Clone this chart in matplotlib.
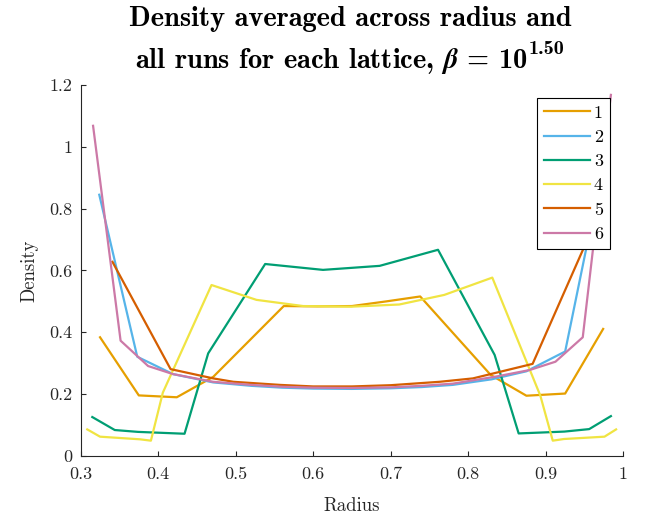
import matplotlib
matplotlib.use("Agg")

import matplotlib.pyplot as plt

plt.rcParams["font.family"] = "cmr10"
plt.rcParams["mathtext.fontset"] = "cm"

# Density per radius bin, averaged over runs, one series per lattice
r1 = [0.325, 0.375, 0.424, 0.471, 0.562, 0.606, 0.650, 0.694, 0.738, 0.829, 0.875, 0.925, 0.974]
d1 = [0.384, 0.196, 0.190, 0.256, 0.485, 0.484, 0.485, 0.500, 0.516, 0.262, 0.195, 0.202, 0.411]

r2 = [0.324, 0.373, 0.419, 0.471, 0.520, 0.560, 0.600, 0.650, 0.700, 0.740, 0.780, 0.830, 0.875, 0.925, 0.975]
d2 = [0.845, 0.321, 0.265, 0.238, 0.227, 0.221, 0.218, 0.217, 0.219, 0.223, 0.230, 0.248, 0.274, 0.338, 0.950]

r3 = [0.315, 0.344, 0.374, 0.404, 0.434, 0.4645, 0.538, 0.6126, 0.6857, 0.761, 0.834, 0.865, 0.895, 0.924, 0.956, 0.984]
d3 = [0.126, 0.084, 0.078, 0.075, 0.072, 0.332, 0.621, 0.602, 0.615, 0.667, 0.327, 0.073, 0.076, 0.079, 0.087, 0.129]

r4 = [0.3085, 0.325, 0.3765, 0.3906, 0.406, 0.4688, 0.5268, 0.587, 0.649, 0.711, 0.769, 0.831, 0.893, 0.909, 0.9235, 0.9757, 0.9907]
d4 = [0.086, 0.0625, 0.054, 0.0496, 0.205, 0.553, 0.505, 0.485, 0.483, 0.490, 0.521, 0.577, 0.195, 0.0496, 0.055, 0.0625, 0.086]

r5 = [0.341, 0.416, 0.471, 0.497, 0.557, 0.600, 0.650, 0.700, 0.763, 0.806, 0.883, 0.959]
d5 = [0.628, 0.281, 0.251, 0.240, 0.230, 0.225, 0.225, 0.229, 0.240, 0.251, 0.298, 0.730]

r6 = [0.316, 0.3515, 0.387, 0.419, 0.471, 0.520, 0.560, 0.600, 0.650, 0.700, 0.740, 0.780, 0.836, 0.879, 0.9125, 0.9477, 0.984]
d6 = [1.068, 0.373, 0.291, 0.265, 0.240, 0.230, 0.224, 0.221, 0.220, 0.222, 0.227, 0.234, 0.257, 0.278, 0.305, 0.384, 1.168]

radii = [r1, r2, r3, r4, r5, r6]
densities = [d1, d2, d3, d4, d5, d6]
labels = ["1", "2", "3", "4", "5", "6"]
colors = ["#E69F00", "#56B4E9", "#009E73", "#F0E442", "#D55E00", "#CC79A7"]

W, H = 649, 523
fig = plt.figure(figsize=(W / 100, H / 100), dpi=100)
ax = fig.add_axes([0.1243, 0.1281, 0.8361, 0.7094])

for r, d, lab, c in zip(radii, densities, labels, colors):
    ax.plot(r, d, color=c, lw=1.6, label=lab)

ax.set_xlim(0.3, 1.0)
ax.set_ylim(0, 1.2)
ax.set_xticks([0.3, 0.4, 0.5, 0.6, 0.7, 0.8, 0.9, 1.0])
ax.set_xticklabels(["0.3", "0.4", "0.5", "0.6", "0.7", "0.8", "0.9", "1"])
ax.set_yticks([0, 0.2, 0.4, 0.6, 0.8, 1.0, 1.2])
ax.set_yticklabels(["0", "0.2", "0.4", "0.6", "0.8", "1", "1.2"])

for side in ["top", "right"]:
    ax.spines[side].set_visible(False)
for side in ["left", "bottom"]:
    ax.spines[side].set_color("#262626")
    ax.spines[side].set_linewidth(0.8)
ax.tick_params(direction="in", length=3.5, width=0.8, colors="#262626",
               labelsize=13, labelcolor="#262626")
ax.tick_params(axis="x", pad=8)
ax.tick_params(axis="y", pad=6)

ax.set_xlabel("Radius", fontsize=13.5, color="#262626", labelpad=10.5)
ax.set_ylabel("Density", fontsize=13.5, color="#262626", labelpad=8)

# two-line bold title; the exponent is set as its own smaller text
title_kw = dict(family="cmb10", color="black")
fig.text(350 / W, 1 - 25.5 / H, "Density averaged across radius and",
         ha="center", va="baseline", fontsize=20.5, **title_kw)
main = fig.text(0, 1 - 68 / H, r"all runs for each lattice, $\boldsymbol{\beta}$ = 10",
                ha="left", va="baseline", fontsize=20.5, **title_kw)
sup = fig.text(0, 1 - 54 / H, "1.50", ha="left", va="baseline",
               fontsize=14.5, **title_kw)
renderer = fig.canvas.get_renderer()
w_main = main.get_window_extent(renderer).width
w_sup = sup.get_window_extent(renderer).width
gap = 1
x0 = 350 - (w_main + gap + w_sup) / 2
main.set_x(x0 / W)
sup.set_x((x0 + w_main + gap) / W)

leg = ax.legend(loc="upper right", bbox_to_anchor=(610 / W, 1 - 97.7 / H),
                bbox_transform=fig.transFigure, borderaxespad=0,
                fontsize=13, handlelength=2.55, handletextpad=0.2,
                labelspacing=0.48, borderpad=0.4, fancybox=False,
                framealpha=1, edgecolor="black")
leg.get_frame().set_linewidth(0.8)

fig.savefig("out.png", dpi=100)
